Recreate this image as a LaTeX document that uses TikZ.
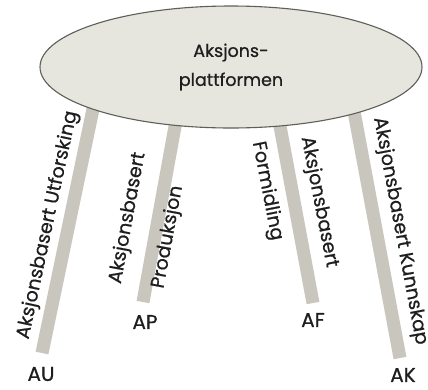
\documentclass[tikz,border=0pt]{standalone}
\usepackage{fontspec}
\setmainfont{Poppins}[FakeBold=0.7]
\usetikzlibrary{shapes.geometric}
\begin{document}
\begin{tikzpicture}[x=1pt,y=-1pt,
  leg/.style={line width=13pt, draw=legcol},
  plate/.style={draw=rimcol, line width=1.1pt, fill=platecol},
  lbl/.style={font=\fontsize{19}{21}\selectfont, text=inkcol, inner sep=0pt},
  tag/.style={font=\fontsize{20}{22}\selectfont, text=inkcol, inner sep=0pt}]
\definecolor{legcol}{HTML}{C9C6BD}
\definecolor{platecol}{HTML}{E6E6DE}
\definecolor{rimcol}{HTML}{5E5E5A}
\definecolor{inkcol}{HTML}{1E1E1E}
\useasboundingbox (0,0) rectangle (428,389);
\fill[white] (0,0) rectangle (428,389);
% leg ends
\coordinate (au0) at (42,353);  \coordinate (au1) at (97,90);
\coordinate (ap0) at (143,302); \coordinate (ap1) at (178,110);
\coordinate (af0) at (313,303); \coordinate (af1) at (277,110);
\coordinate (ak0) at (400,358); \coordinate (ak1) at (350,90);
\draw[leg] (au0) -- (au1);
\draw[leg] (ap0) -- (ap1);
\draw[leg] (af0) -- (af1);
\draw[leg] (ak0) -- (ak1);
% the platform
\node[plate, ellipse, minimum width=382pt, minimum height=122pt, inner sep=0pt] (plat) at (231,67) {};
\node[lbl, align=center, font=\fontsize{17.5}{29}\selectfont] (title) at (231,67) {Aksjons-\\plattformen};
% leg labels
\node[tag] (AU) at (41,374) {AU};
\node[tag] (AP) at (145,322) {AP};
\node[tag] (AF) at (313,320) {AF};
\node[tag] (AK) at (403,375) {AK};
% texts along the legs
\node[lbl, rotate=78] (tu) at (48,225) {Aksjonsbasert Utforsking};
\node[lbl, rotate=79.6] (tp1) at (128,218) {Aksjonsbasert};
\node[lbl, rotate=79.6] (tp2) at (168,237) {Produksjon};
\node[lbl, rotate=-79] (tf1) at (267,191) {Formidling};
\node[lbl, rotate=-79] (tf2) at (319,202) {Aksjonsbasert};
\node[lbl, rotate=-79.4] (tk) at (400,231) {Aksjonsbasert Kunnskap};
\end{tikzpicture}
\end{document}
